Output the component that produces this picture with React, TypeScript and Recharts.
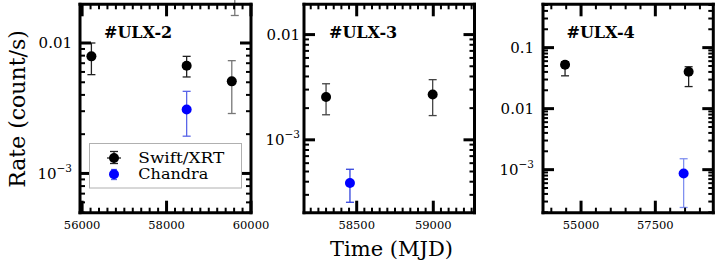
import React from 'react';
import { ScatterChart, Scatter, XAxis, YAxis, ErrorBar } from 'recharts';

const SERIF = '"DejaVu Serif", serif';

// ---------------- #ULX-2 ----------------
const ulx2SwiftMjd = [56220, 58476];
const ulx2SwiftRate = [0.0079, 0.0067];
const ulx2SwiftLow = [0.00572, 0.00549];
const ulx2SwiftHigh = [0.01, 0.0079];
const ulx2SwiftFaintMjd = [59545, 59616];
const ulx2SwiftFaintRate = [0.00508, 0.03];
const ulx2SwiftFaintLow = [0.00288, 0.01625];
const ulx2SwiftFaintHigh = [0.00732, 0.045];
const ulx2ChandraMjd = [58476];
const ulx2ChandraRate = [0.00309];
const ulx2ChandraLow = [0.00193];
const ulx2ChandraHigh = [0.00426];

// ---------------- #ULX-3 ----------------
const ulx3SwiftMjd = [58300, 58996];
const ulx3SwiftRate = [0.00255, 0.0027];
const ulx3SwiftLow = [0.00173, 0.0017];
const ulx3SwiftHigh = [0.00341, 0.00373];
const ulx3ChandraMjd = [58456];
const ulx3ChandraRate = [0.000389];
const ulx3ChandraLow = [0.000255];
const ulx3ChandraHigh = [0.000525];

// ---------------- #ULX-4 ----------------
const ulx4SwiftMjd = [54462, 58620];
const ulx4SwiftRate = [0.0524, 0.0402];
const ulx4SwiftLow = [0.0345, 0.023];
const ulx4SwiftHigh = [0.0588, 0.0486];
const ulx4ChandraMjd = [58452];
const ulx4ChandraRate = [0.000865];
const ulx4ChandraLow = [0.00024];
const ulx4ChandraHigh = [0.00151];

// ---------------- ticks ----------------
const ulx2XTicks = [56000, 58000, 60000];
const ulx2XLabels = ['56000', '58000', '60000'];
const ulx2YTicks = [0.01, 0.001];
const ulx2YLabels = ['0.01', '10^−3'];

const ulx3XTicks = [58500, 59000];
const ulx3XLabels = ['58500', '59000'];
const ulx3YTicks = [0.01, 0.001];
const ulx3YLabels = ['0.01', '10^−3'];

const ulx4XTicks = [55000, 57500];
const ulx4XLabels = ['55000', '57500'];
const ulx4YTicks = [0.1, 0.01, 0.001];
const ulx4YLabels = ['0.1', '0.01', '10^−3'];

const titles = ['#ULX-2', '#ULX-3', '#ULX-4'];
const legendNames = ['Swift/XRT', 'Chandra'];
const xTitle = 'Time (MJD)';
const yTitle = 'Rate (count/s)';

type Row = { x: number; y: number; err: [number, number] };
const rows = (mjd: number[], rate: number[], lo: number[], hi: number[]): Row[] =>
  mjd.map((m, i) => ({ x: m, y: rate[i], err: [rate[i] - lo[i], hi[i] - rate[i]] }));

const linearMinor = (d: number[], step: number, majors: number[]) => {
  const out: number[] = [];
  for (let v = Math.ceil(d[0] / step) * step; v <= d[1]; v += step) {
    if (majors.indexOf(v) < 0) out.push(v);
  }
  return out;
};
const logMinor = (d: number[]) => {
  const out: number[] = [];
  for (let e = Math.floor(Math.log10(d[0])); e <= Math.ceil(Math.log10(d[1])); e++) {
    for (let k = 2; k <= 9; k++) {
      const v = k * Math.pow(10, e);
      if (v >= d[0] && v <= d[1]) out.push(v);
    }
  }
  return out;
};

const MAJ = 11;
const MIN = 5;
const TICKC = '#000000';
const MAJW = 3;
const MINW = 2;

const isMajor = (majors: number[], v: number) => majors.some((m) => Math.abs(m - v) <= Math.abs(m) * 1e-9);
const majorIndex = (majors: number[], v: number) => majors.findIndex((m) => Math.abs(m - v) <= Math.abs(m) * 1e-9);

const renderLabel = (label: string, x: number, y: number) => {
  if (label.indexOf('^') >= 0) {
    const [base, exp] = label.split('^');
    return (
      <text x={x} y={y} textAnchor="end" fontSize={15} fontFamily={SERIF} fill="#000">
        {base}
        <tspan dy={-7} fontSize={10.5}>{exp}</tspan>
      </text>
    );
  }
  return (
    <text x={x} y={y} textAnchor="end" fontSize={15} fontFamily={SERIF} fill="#000">
      {label}
    </text>
  );
};

const makeBottomTick = (majors: number[], labels: string[]) => (p: any) => {
  const i = majorIndex(majors, p.payload.value);
  const major = i >= 0;
  return (
    <g>
      <path d={`M${p.x},${p.y}V${p.y - (major ? MAJ + 1 : MIN)}`} stroke={TICKC} strokeWidth={major ? MAJW : MINW} fill="none" />
      {major && (
        <text x={p.x} y={p.y + 16.5} textAnchor="middle" fontSize={11.5} fontFamily={SERIF} fill="#000">
          {labels[i]}
        </text>
      )}
    </g>
  );
};
const makeTopTick = (majors: number[]) => (p: any) => {
  const major = isMajor(majors, p.payload.value);
  return (
    <path d={`M${p.x},${p.y}V${p.y + (major ? MAJ + 1 : MIN)}`} stroke={TICKC} strokeWidth={major ? MAJW : MINW} fill="none" />
  );
};
const makeLeftTick = (majors: number[], labels: string[], gap: number) => (p: any) => {
  const i = majorIndex(majors, p.payload.value);
  const major = i >= 0;
  return (
    <g>
      <path d={`M${p.x},${p.y}H${p.x + (major ? MAJ : MIN)}`} stroke={TICKC} strokeWidth={major ? MAJW : MINW} fill="none" />
      {major && renderLabel(labels[i], p.x - gap, p.y + 5.5)}
    </g>
  );
};
const makeRightTick = (majors: number[]) => (p: any) => {
  const major = isMajor(majors, p.payload.value);
  return (
    <path d={`M${p.x},${p.y}H${p.x - (major ? MAJ : MIN)}`} stroke={TICKC} strokeWidth={major ? MAJW : MINW} fill="none" />
  );
};

type Series = { data: Row[]; fill: string; err: string };
type Panel = {
  plotLeft: number;
  plotRight: number;
  xDomain: number[];
  yDomain: number[];
  xTicks: number[];
  xLabels: string[];
  xStep: number;
  yTicks: number[];
  yLabels: string[];
  gap: number;
  series: Series[];
};

const BLACK = '#000000';
const BLUE = '#0000ff';

const panels: Panel[] = [
  {
    plotLeft: 80,
    plotRight: 251,
    xDomain: [55950, 60000],
    yDomain: [0.0005, 0.0198],
    xTicks: ulx2XTicks,
    xLabels: ulx2XLabels,
    xStep: 200,
    yTicks: ulx2YTicks,
    yLabels: ulx2YLabels,
    gap: 8,
    series: [
      { data: rows(ulx2SwiftMjd, ulx2SwiftRate, ulx2SwiftLow, ulx2SwiftHigh), fill: BLACK, err: '#222222' },
      { data: rows(ulx2SwiftFaintMjd, ulx2SwiftFaintRate, ulx2SwiftFaintLow, ulx2SwiftFaintHigh), fill: BLACK, err: '#777777' },
      { data: rows(ulx2ChandraMjd, ulx2ChandraRate, ulx2ChandraLow, ulx2ChandraHigh), fill: BLUE, err: '#5a66e8' },
    ],
  },
  {
    plotLeft: 304,
    plotRight: 474.5,
    xDomain: [58156, 59269],
    yDomain: [0.000203, 0.0194],
    xTicks: ulx3XTicks,
    xLabels: ulx3XLabels,
    xStep: 50,
    yTicks: ulx3YTicks,
    yLabels: ulx3YLabels,
    gap: 4,
    series: [
      { data: rows(ulx3SwiftMjd, ulx3SwiftRate, ulx3SwiftLow, ulx3SwiftHigh), fill: BLACK, err: '#444444' },
      { data: rows(ulx3ChandraMjd, ulx3ChandraRate, ulx3ChandraLow, ulx3ChandraHigh), fill: BLUE, err: '#3344dd' },
    ],
  },
  {
    plotLeft: 542.7,
    plotRight: 713,
    xDomain: [53720, 59450],
    yDomain: [0.000197, 0.513],
    xTicks: ulx4XTicks,
    xLabels: ulx4XLabels,
    xStep: 500,
    yTicks: ulx4YTicks,
    yLabels: ulx4YLabels,
    gap: 9,
    series: [
      { data: rows(ulx4SwiftMjd, ulx4SwiftRate, ulx4SwiftLow, ulx4SwiftHigh), fill: BLACK, err: '#222222' },
      { data: rows(ulx4ChandraMjd, ulx4ChandraRate, ulx4ChandraLow, ulx4ChandraHigh), fill: BLUE, err: '#8090f0' },
    ],
  },
];

const H = 265;
const YW = 50;
const TOP = 3.3;
const TOPH = 1;
const PLOT_BOTTOM = 212.7;

const PanelChart = ({ p }: { p: Panel }) => {
  const marginRight = p.plotRight > 700 ? 718 - p.plotRight - 1 : 22;
  const width = YW + (p.plotRight - p.plotLeft) + 1 + marginRight;
  const xAll = [...p.xTicks, ...linearMinor(p.xDomain, p.xStep, p.xTicks)].sort((a, b) => a - b);
  const yAll = [...p.yTicks, ...logMinor(p.yDomain)].sort((a, b) => a - b);
  const axisLine = { stroke: '#000', strokeWidth: 3, strokeLinecap: 'square' as const };
  return (
    <div style={{ position: 'absolute', left: p.plotLeft - YW, top: 0 }}>
      <ScatterChart
        width={width}
        height={H}
        margin={{ top: TOP, right: marginRight, bottom: 0, left: 0 }}
        style={{ overflow: 'visible' }}
      >
        <XAxis
          xAxisId="b"
          type="number"
          dataKey="x"
          domain={p.xDomain}
          allowDataOverflow
          ticks={xAll}
          interval={0}
          tickSize={0}
          tickMargin={0}
          tickLine={false}
          axisLine={axisLine}
          height={H - PLOT_BOTTOM}
          tick={makeBottomTick(p.xTicks, p.xLabels)}
        />
        <XAxis
          xAxisId="t"
          orientation="top"
          type="number"
          dataKey="x"
          domain={p.xDomain}
          allowDataOverflow
          ticks={xAll}
          interval={0}
          tickSize={0}
          tickMargin={0}
          tickLine={false}
          axisLine={axisLine}
          height={TOPH}
          tick={makeTopTick(p.xTicks)}
        />
        <YAxis
          yAxisId="l"
          type="number"
          dataKey="y"
          scale="log"
          domain={p.yDomain}
          allowDataOverflow
          ticks={yAll}
          interval={0}
          tickSize={0}
          tickMargin={0}
          tickLine={false}
          axisLine={axisLine}
          width={YW}
          tick={makeLeftTick(p.yTicks, p.yLabels, p.gap)}
        />
        <YAxis
          yAxisId="r"
          orientation="right"
          type="number"
          dataKey="y"
          scale="log"
          domain={p.yDomain}
          allowDataOverflow
          ticks={yAll}
          interval={0}
          tickSize={0}
          tickMargin={0}
          tickLine={false}
          axisLine={axisLine}
          width={1}
          tick={makeRightTick(p.yTicks)}
        />
        <Scatter
          xAxisId="t"
          yAxisId="r"
          data={p.series[0].data}
          isAnimationActive={false}
          shape={() => <g />}
        />
        {p.series.map((s, i) => (
          <Scatter
            key={i}
            xAxisId="b"
            yAxisId="l"
            data={s.data}
            isAnimationActive={false}
            shape={(q: any) => <circle cx={q.cx} cy={q.cy} r={5} fill={s.fill} />}
          >
            <ErrorBar dataKey="err" direction="y" width={4} stroke={s.err} strokeWidth={1.3} />
          </Scatter>
        ))}
      </ScatterChart>
    </div>
  );
};

const titlePos = [
  [104, 38],
  [329, 37.7],
  [566.5, 37.7],
];

export default function App() {
  return (
    <div style={{ position: 'absolute', left: 0, top: 0, width: 718, height: H, background: '#fff', overflow: 'hidden' }}>
      {panels.map((p, i) => (
        <PanelChart key={i} p={p} />
      ))}
      <svg width={718} height={H} style={{ position: 'absolute', left: 0, top: 0, pointerEvents: 'none' }}>
        {titles.map((t, i) => (
          <text key={t} x={titlePos[i][0]} y={titlePos[i][1]} fontSize={16} fontWeight="bold" fontFamily={SERIF} fill="#000">
            {t}
          </text>
        ))}
        <text
          x={0}
          y={0}
          transform="translate(25,109) rotate(-90)"
          textAnchor="middle"
          fontSize={22}
          fontFamily={SERIF}
          fill="#000"
        >
          {yTitle}
        </text>
        <text x={391.5} y={256} textAnchor="middle" fontSize={21} fontFamily={SERIF} fill="#000">
          {xTitle}
        </text>
        {/* legend */}
        <rect x={89.5} y={143.5} width={152} height={44.5} fill="#fff" stroke="#b0b0b0" strokeWidth={1} />
        <line x1={114} x2={114} y1={151.5} y2={163.5} stroke="#222" strokeWidth={1.3} />
        <line x1={110} x2={118} y1={151.5} y2={151.5} stroke="#222" strokeWidth={1.3} />
        <line x1={110} x2={118} y1={163.5} y2={163.5} stroke="#222" strokeWidth={1.3} />
        <line x1={107} x2={121} y1={158} y2={158} stroke="#222" strokeWidth={1.3} />
        <circle cx={114} cy={158} r={5} fill={BLACK} />
        <line x1={114} x2={114} y1={169.5} y2={179.5} stroke="#5a66e8" strokeWidth={1.3} />
        <line x1={111} x2={117} y1={169.5} y2={169.5} stroke="#5a66e8" strokeWidth={1.3} />
        <line x1={111} x2={117} y1={179.5} y2={179.5} stroke="#5a66e8" strokeWidth={1.3} />
        <circle cx={114} cy={174.3} r={5} fill={BLUE} />
        <text x={138.3} y={162.5} fontSize={14} textLength={86} lengthAdjust="spacingAndGlyphs" fontFamily={SERIF} fill="#000">
          {legendNames[0]}
        </text>
        <text x={138.3} y={179} fontSize={14} textLength={70} lengthAdjust="spacingAndGlyphs" fontFamily={SERIF} fill="#000">
          {legendNames[1]}
        </text>
      </svg>
    </div>
  );
}
